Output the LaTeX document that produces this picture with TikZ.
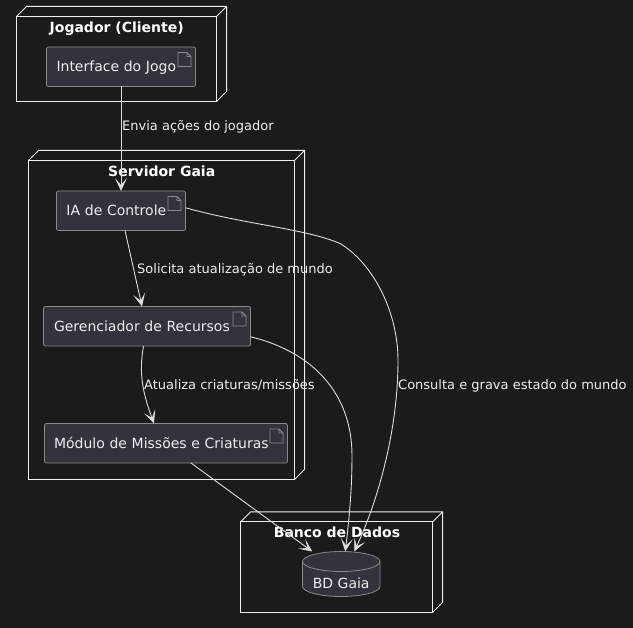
\documentclass[tikz,border=0pt]{standalone}
\usepackage{fontspec}
\setmainfont{DejaVu Sans}
\usetikzlibrary{arrows.meta,calc}
\definecolor{bgc}{HTML}{1B1B1B}
\definecolor{boxfill}{HTML}{33333D}
\definecolor{boxline}{HTML}{8A8A8A}
\definecolor{framec}{HTML}{EEEEEE}
\definecolor{linkc}{HTML}{DDDDDD}
\definecolor{txt}{HTML}{EEEEEE}
\tikzset{
  frame/.style={draw=framec,line width=1pt,minimum width=#1,inner sep=0pt,outer sep=0pt,anchor=north west},
  title/.style={text=white,font=\fontsize{14}{16}\selectfont\bfseries,inner sep=0pt,anchor=base},
  art/.style={draw=boxline,fill=boxfill,rounded corners=2pt,line width=.8pt,text=txt,
    font=\fontsize{14}{16}\selectfont,align=left,inner xsep=10pt,inner ysep=0pt,outer sep=0pt,
    text height=13pt,text depth=2.5pt,minimum height=39.5pt,anchor=north west},
  link/.style={draw=linkc,line width=.9pt,-{Stealth[length=13pt,width=12pt,inset=7pt]}},
  lab/.style={text=txt,font=\fontsize{13}{15}\selectfont,inner sep=0pt,anchor=base west},
  icon/.style={draw=boxline,line width=.8pt},
  back/.style={draw=framec,line width=1pt}
}
\newcommand{\backlines}[1]{%
  \draw[back] (#1.north west) -- ++(10,-10) -- ($(#1.north east)+(10,-10)$) -- ($(#1.south east)+(10,-10)$) -- (#1.south east)
    (#1.north east) -- ++(10,-10);}
\newcommand{\docicon}[1]{%
  \draw[icon] ($(#1.north east)+(-17.5,5.5)$) -- ++(9,0) -- ++(4,4) -- ++(0,10) -- ++(-13,0) -- cycle
    ($(#1.north east)+(-8.5,5.5)$) -- ++(0,4) -- ++(4,0);}
\begin{document}
\begin{tikzpicture}[x=1pt,y=-1pt]
\fill[bgc] (0,-0.5) rectangle (633,627.5);
\useasboundingbox (0,-0.5) rectangle (633,627.5);
% outer nodes
\node[frame=200pt,minimum height=85pt] (jog) at (16.5,16) {};
\backlines{jog}
\node[title] (jogt) at (116.7,32.5) {Jogador (Cliente)};
\node[frame=266pt,minimum height=319pt] (srv) at (28.5,160) {};
\backlines{srv}
\node[title] (srvt) at (161.7,176.5) {Servidor Gaia};
\node[frame=192pt,minimum height=90.5pt] (ban) at (240.5,521.5) {};
\backlines{ban}
\node[title] (bant) at (337,537.5) {Banco de Dados};
% artifacts
\node[art,text width=129pt] (ui) at (46.5,46.5) {Interface do Jogo};
\docicon{ui}
\node[art,text width=109pt] (ia) at (56.5,190.5) {IA de Controle};
\docicon{ia}
\node[art,text width=187pt] (ger) at (43.5,306) {\kern.5pt Gerenciador de Recursos};
\docicon{ger}
\node[art,text width=223pt] (mod) at (44.5,423) {\kern-.5pt Módulo de Missões e Criaturas};
\docicon{mod}
% database
\node[inner sep=0pt,outer sep=0pt,minimum width=77.5pt,minimum height=45pt,anchor=north west] (db) at (302.5,551) {};
\draw[draw=boxline,fill=boxfill,line width=.8pt]
  ($(db.north west)+(0,10)$) .. controls ($(db.north west)+(0,4.5)$) and ($(db.north)+(-21,0)$) .. (db.north)
  .. controls ($(db.north)+(21,0)$) and ($(db.north east)+(0,4.5)$) .. ($(db.north east)+(0,10)$)
  -- ($(db.south east)+(0,-10)$)
  .. controls ($(db.south east)+(0,-4.5)$) and ($(db.south)+(21,0)$) .. (db.south)
  .. controls ($(db.south)+(-21,0)$) and ($(db.south west)+(0,-4.5)$) .. ($(db.south west)+(0,-10)$) -- cycle;
\draw[draw=boxline,line width=.8pt]
  ($(db.north west)+(0,10)$) .. controls ($(db.north west)+(0,15.5)$) and ($(db.north)+(-21,20)$) .. ($(db.north)+(0,20)$)
  .. controls ($(db.north)+(21,20)$) and ($(db.north east)+(0,15.5)$) .. ($(db.north east)+(0,10)$);
\node[text=txt,font=\fontsize{14}{16}\selectfont,inner sep=0pt,anchor=base] (dbt) at (341.2,588.5) {BD Gaia};
% connectors
\draw[link] (ui.south) -- (ia.north);
\draw[link] ([xshift=4pt]ia.south) -- ([xshift=-5pt]ger.north);
\draw[link] ([xshift=-3.5pt]ger.south) .. controls +(-5,28) and +(-11,-30) .. ([xshift=-12pt]mod.north);
\draw[link] (ia.east) ++(0,-3) .. controls (245,224) and (305,228) .. (340,243)
  .. controls (372,262) and (398,310) .. (398,360)
  .. controls (398,430) and (378,500) .. ([xshift=13pt]db.north);
\draw[link] ($(ger.east)+(0,10.5)$) .. controls (315,352) and (352,395) .. (352,455)
  .. controls (352,490) and (349,520) .. ([xshift=4pt]db.north);
\draw[link] ([xshift=25pt]mod.south) -- ([xshift=-29pt]db.north);
% labels
\node[lab] (l1) at (122,130.5) {Envia ações do jogador};
\node[lab] (l2) at (137,273.5) {Solicita atualização de mundo};
\node[lab] (l3) at (144,389.5) {Atualiza criaturas/missões};
\node[lab] (l4) at (398,389.5) {Consulta e grava estado do mundo};
\end{tikzpicture}
\end{document}
